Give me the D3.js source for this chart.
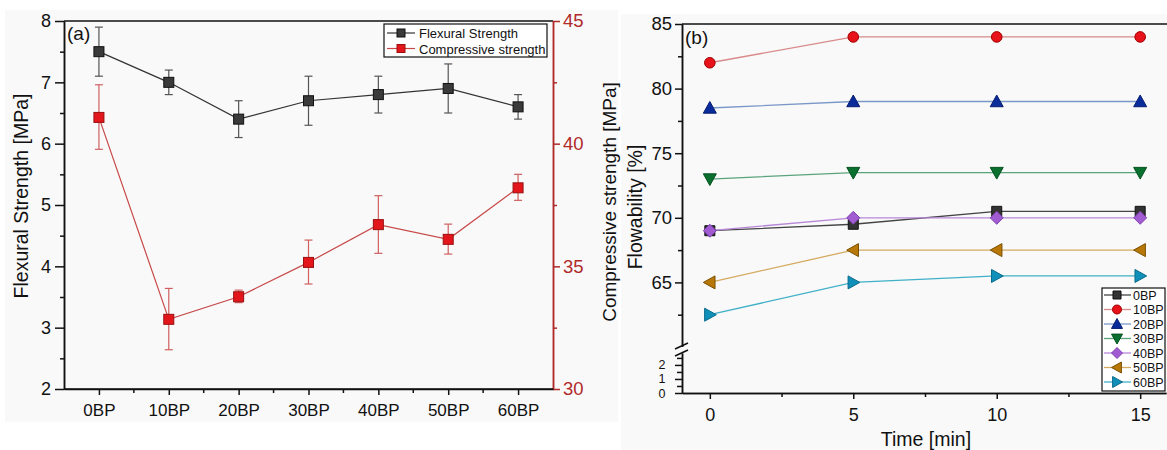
<!DOCTYPE html>
<html><head><meta charset="utf-8">
<script src="https://cdn.jsdelivr.net/npm/d3@7"></script>
<style>
html,body{margin:0;padding:0;background:#fff;}
svg{display:block;font-family:"Liberation Sans",Arial,sans-serif;}
</style></head>
<body><svg id="c" width="1167" height="450"></svg>
<script>
// ---- Panel (a) data ----
const categories = ["0BP","10BP","20BP","30BP","40BP","50BP","60BP"];
const flexural = [7.5, 7.0, 6.4, 6.7, 6.8, 6.9, 6.6];
const flexuralErr = [0.4, 0.2, 0.3, 0.4, 0.3, 0.4, 0.2];
const compressive = [41.07, 32.84, 33.76, 35.16, 36.70, 36.10, 38.20];
const compressiveLo = [39.77, 31.6, 33.52, 34.28, 35.53, 35.5, 37.69];
const compressiveHi = [42.4, 34.1, 34.03, 36.07, 37.88, 36.72, 38.75];
const leftTicks = [2,3,4,5,6,7,8];
const rightTicks = [30,35,40,45];

// ---- Panel (b) data ----
const times = [0, 5, 10, 15];
const seriesNames = ["0BP","10BP","20BP","30BP","40BP","50BP","60BP"];
const s0BP  = [69, 69.5, 70.5, 70.5];
const s10BP = [82, 84, 84, 84];
const s20BP = [78.5, 79, 79, 79];
const s30BP = [73, 73.5, 73.5, 73.5];
const s40BP = [69, 70, 70, 70];
const s50BP = [65, 67.5, 67.5, 67.5];
const s60BP = [62.5, 65, 65.5, 65.5];
const upperTicks = [65,70,75,80,85];
const lowerTicks = [0,1,2];
const timeTicks = [0,5,10,15];

const FONT = "Liberation Sans, Arial, sans-serif";
const svg = d3.select("#c");

// backgrounds
svg.append("rect").attr("x",5).attr("y",10).attr("width",613).attr("height",412).attr("fill","#f9f9f9");
svg.append("rect").attr("x",621).attr("y",14).attr("width",546).attr("height",436).attr("fill","#f9f9f9");

// ===== Panel (a) =====
const aL = 64, aR = 553, aT = 21, aB = 389;
const xa = d3.scalePoint().domain(categories).range([aL, aR]).padding(0.5);
const yl = d3.scaleLinear().domain([2,8]).range([aB, aT]);
const yr = d3.scaleLinear().domain([30,45]).range([aB, aT]);
const ga = svg.append("g");
const red = "#b02a2a";

ga.append("line").attr("x1",aL).attr("x2",aR).attr("y1",aT).attr("y2",aT).attr("stroke","#111").attr("stroke-width",1.5);

const leftAx = ga.append("g").attr("transform",`translate(${aL},0)`)
  .call(d3.axisLeft(yl).tickValues(leftTicks).tickSize(9).tickSizeOuter(0).tickPadding(4).tickFormat(d3.format("d")));
const leftMinor = ga.append("g").attr("transform",`translate(${aL},0)`)
  .call(d3.axisLeft(yl).tickValues(d3.range(2.5,8,1)).tickSize(4).tickSizeOuter(0).tickFormat(""));
const rightAx = ga.append("g").attr("transform",`translate(${aR},0)`)
  .call(d3.axisRight(yr).tickValues(rightTicks).tickSize(7).tickSizeOuter(0).tickPadding(3).tickFormat(d3.format("d")));
const rightMinor = ga.append("g").attr("transform",`translate(${aR},0)`)
  .call(d3.axisRight(yr).tickValues([32.5,37.5,42.5]).tickSize(4).tickSizeOuter(0).tickFormat(""));
const botAx = ga.append("g").attr("transform",`translate(0,${aB})`)
  .call(d3.axisBottom(xa).tickSize(6).tickSizeOuter(0).tickPadding(9));
const midPos = categories.slice(1).map((c,i)=> (xa(c)+xa(categories[i]))/2);
const botMinor = ga.append("g").attr("transform",`translate(0,${aB})`);
botMinor.selectAll("line").data(midPos).join("line").attr("x1",d=>d).attr("x2",d=>d).attr("y1",0).attr("y2",4).attr("stroke","#111").attr("stroke-width",1.5);
botMinor.append("line").attr("x1",aL).attr("x2",aR).attr("y1",0).attr("y2",0).attr("stroke","#111").attr("stroke-width",1.5);

[leftAx,leftMinor,botAx].forEach(g=>{
  g.selectAll("path,line").attr("stroke","#111").attr("stroke-width",1.5);
  g.selectAll("text").attr("fill","#111").attr("font-size",17).attr("font-family",FONT);
});
[rightAx,rightMinor].forEach(g=>{
  g.selectAll("path,line").attr("stroke",red).attr("stroke-width",1.5);
  g.selectAll("text").attr("fill",red).attr("font-size",18.5).attr("font-family",FONT);
});
leftAx.selectAll("text").attr("font-size",18);

ga.append("text").attr("transform",`translate(28,196) rotate(-90)`).attr("text-anchor","middle")
  .attr("font-size",19.5).attr("fill","#111").text("Flexural Strength [MPa]");
ga.append("text").attr("transform",`translate(616,202) rotate(-90)`).attr("text-anchor","middle")
  .attr("font-size",19).attr("fill","#111").text("Compressive strength [MPa]");
ga.append("text").attr("x",67).attr("y",40).attr("font-size",19).attr("fill","#111").text("(a)");

// flexural series
const flexLine = d3.line().x((d,i)=>xa(categories[i])).y(d=>yl(d));
ga.append("path").datum(flexural).attr("d",flexLine).attr("fill","none").attr("stroke","#333").attr("stroke-width",1.2);
const fe = ga.append("g").attr("stroke","#555").attr("stroke-width",1.2);
flexural.forEach((v,i)=>{
  const x = xa(categories[i]), y1 = yl(v+flexuralErr[i]), y2 = yl(v-flexuralErr[i]);
  fe.append("line").attr("x1",x).attr("x2",x).attr("y1",y1).attr("y2",y2);
  fe.append("line").attr("x1",x-4).attr("x2",x+4).attr("y1",y1).attr("y2",y1);
  fe.append("line").attr("x1",x-4).attr("x2",x+4).attr("y1",y2).attr("y2",y2);
});
ga.selectAll(".fm").data(flexural).join("rect").attr("class","fm")
  .attr("x",(d,i)=>xa(categories[i])-5).attr("y",d=>yl(d)-5).attr("width",10).attr("height",10)
  .attr("fill","#3a3a3a").attr("stroke","#111").attr("stroke-width",1);

// compressive series
const compLine = d3.line().x((d,i)=>xa(categories[i])).y(d=>yr(d));
ga.append("path").datum(compressive).attr("d",compLine).attr("fill","none").attr("stroke","#c84848").attr("stroke-width",1.2);
const ce = ga.append("g").attr("stroke","#d06060").attr("stroke-width",1.2);
compressive.forEach((v,i)=>{
  const x = xa(categories[i]), y1 = yr(compressiveHi[i]), y2 = yr(compressiveLo[i]);
  ce.append("line").attr("x1",x).attr("x2",x).attr("y1",y1).attr("y2",y2);
  ce.append("line").attr("x1",x-4).attr("x2",x+4).attr("y1",y1).attr("y2",y1);
  ce.append("line").attr("x1",x-4).attr("x2",x+4).attr("y1",y2).attr("y2",y2);
});
ga.selectAll(".cm").data(compressive).join("rect").attr("class","cm")
  .attr("x",(d,i)=>xa(categories[i])-5).attr("y",d=>yr(d)-5).attr("width",10).attr("height",10)
  .attr("fill","#e3161c").attr("stroke","#9a1010").attr("stroke-width",1);

// legend (a)
const la = ga.append("g");
la.append("rect").attr("x",384).attr("y",24).attr("width",163).attr("height",33).attr("fill","#fff").attr("stroke","#111").attr("stroke-width",1.2);
const legA = [{n:"Flexural Strength", fill:"#3a3a3a", st:"#111", ln:"#333"},{n:"Compressive strength", fill:"#e3161c", st:"#9a1010", ln:"#c84848"}];
legA.forEach((d,i)=>{
  const y = 33 + i*15.5;
  la.append("line").attr("x1",387).attr("x2",415).attr("y1",y).attr("y2",y).attr("stroke",d.ln).attr("stroke-width",1.2);
  la.append("rect").attr("x",397).attr("y",y-4).attr("width",8).attr("height",8).attr("fill",d.fill).attr("stroke",d.st);
  la.append("text").attr("x",419).attr("y",y+5).attr("font-size",13).attr("fill","#111").text(d.n);
});

// ===== Panel (b) =====
const bL = 682, bR = 1166, bT = 24, bB = 393;
const xb = d3.scaleLinear().domain([-0.97, 15.9]).range([bL, bR]);
const yu = d3.scaleLinear().domain([60,85]).range([347, bT]);
const ylo = d3.scaleLinear().domain([0,2.85]).range([bB, 353]);
const gb = svg.append("g");

gb.append("line").attr("x1",bL).attr("x2",1167).attr("y1",bT).attr("y2",bT).attr("stroke","#111").attr("stroke-width",1.5);
const upAx = gb.append("g").attr("transform",`translate(${bL},0)`)
  .call(d3.axisLeft(yu).tickValues(upperTicks).tickSize(7).tickSizeOuter(0).tickPadding(3).tickFormat(d3.format("d")));
const upMinor = gb.append("g").attr("transform",`translate(${bL},0)`)
  .call(d3.axisLeft(yu).tickValues([62.5,67.5,72.5,77.5,82.5]).tickSize(4).tickSizeOuter(0).tickFormat(""));
const loAx = gb.append("g").attr("transform",`translate(${bL},0)`)
  .call(d3.axisLeft(ylo).tickValues(lowerTicks).tickSize(7).tickSizeOuter(0).tickFormat(d3.format("d")).tickPadding(17));
const loMinor = gb.append("g").attr("transform",`translate(${bL},0)`)
  .call(d3.axisLeft(ylo).tickValues([0.5,1.5,2.5]).tickSize(5).tickSizeOuter(0).tickFormat(""));
const xbAx = gb.append("g").attr("transform",`translate(0,${bB})`)
  .call(d3.axisBottom(xb).tickValues(timeTicks).tickSize(6).tickSizeOuter(0).tickPadding(9).tickFormat(d3.format("d")));
const xbMinor = gb.append("g").attr("transform",`translate(0,${bB})`)
  .call(d3.axisBottom(xb).tickValues([2.5,7.5,12.5]).tickSize(4).tickSizeOuter(0).tickFormat(""));
[upAx,upMinor,loAx,loMinor,xbAx,xbMinor].forEach(g=>{
  g.selectAll("path,line").attr("stroke","#111").attr("stroke-width",1.5);
  g.selectAll("text").attr("fill","#111").attr("font-size",18.5).attr("font-family",FONT);
});
xbAx.selectAll("text").attr("font-size",18);
loAx.selectAll("text").attr("font-size",12.5).attr("text-anchor","middle").attr("dx",4);
// lower axis ticks pointing right, as short marks
loAx.selectAll("line").attr("x2",-7);
// break marks
const brk = gb.append("g").attr("stroke","#111").attr("stroke-width",1.5);
brk.append("rect").attr("x",bL-2).attr("y",347).attr("width",4).attr("height",6).attr("fill","#f9f9f9").attr("stroke","none");
brk.append("line").attr("x1",bL-7).attr("x2",bL+6).attr("y1",349).attr("y2",343);
brk.append("line").attr("x1",bL-7).attr("x2",bL+6).attr("y1",356).attr("y2",350);

gb.append("text").attr("transform",`translate(642,207) rotate(-90)`).attr("text-anchor","middle")
  .attr("font-size",19.5).attr("fill","#111").text("Flowability [%]");
gb.append("text").attr("x",926).attr("y",446).attr("text-anchor","middle")
  .attr("font-size",19.5).attr("fill","#111").text("Time [min]");
gb.append("text").attr("x",685).attr("y",44).attr("font-size",19).attr("fill","#111").text("(b)");

const seriesB = [
  {n:"0BP", v:s0BP, fill:"#333333", st:"#111", ln:"#444", shape:"square"},
  {n:"10BP", v:s10BP, fill:"#e8121a", st:"#a00000", ln:"#d88a8a", shape:"circle"},
  {n:"20BP", v:s20BP, fill:"#0a2c9a", st:"#061c70", ln:"#7a98c8", shape:"triangle"},
  {n:"30BP", v:s30BP, fill:"#0a7030", st:"#05501e", ln:"#5aa47c", shape:"triDown"},
  {n:"40BP", v:s40BP, fill:"#a05cd0", st:"#8040b0", ln:"#b888d8", shape:"diamond"},
  {n:"50BP", v:s50BP, fill:"#b87808", st:"#7a5000", ln:"#d4aa60", shape:"triLeft"},
  {n:"60BP", v:s60BP, fill:"#1090b8", st:"#0a6a8a", ln:"#40b0c8", shape:"triRight"}
];
function markerPath(shape, s){
  const h = s/2;
  switch(shape){
    case "square": return `M${-h},${-h}H${h}V${h}H${-h}Z`;
    case "triangle": return `M0,${-h}L${h},${h*0.8}L${-h},${h*0.8}Z`;
    case "triDown": return `M0,${h}L${h},${-h*0.8}L${-h},${-h*0.8}Z`;
    case "triLeft": return `M${-h},0L${h*0.8},${-h}L${h*0.8},${h}Z`;
    case "triRight": return `M${h},0L${-h*0.8},${-h}L${-h*0.8},${h}Z`;
    case "diamond": return `M0,${-h}L${h},0L0,${h}L${-h},0Z`;
  }
}
const bLine = d3.line().x((d,i)=>xb(times[i])).y(d=>yu(d));
seriesB.forEach(s=>{
  gb.append("path").datum(s.v).attr("d",bLine).attr("fill","none").attr("stroke",s.ln).attr("stroke-width",1.3);
});
seriesB.forEach(s=>{
  const g = gb.append("g");
  s.v.forEach((v,i)=>{
    if(s.shape==="circle"){
      g.append("circle").attr("cx",xb(times[i])).attr("cy",yu(v)).attr("r",5.3).attr("fill",s.fill).attr("stroke",s.st).attr("stroke-width",1);
    } else {
      const sz = s.shape==="square"?10:13;
      g.append("path").attr("d",markerPath(s.shape,sz)).attr("transform",`translate(${xb(times[i])},${yu(v)})`)
        .attr("fill",s.fill).attr("stroke",s.st).attr("stroke-width",1);
    }
  });
});

// legend (b)
const lb = gb.append("g");
lb.append("rect").attr("x",1102).attr("y",288).attr("width",63).attr("height",103).attr("fill","#fff").attr("stroke","#111").attr("stroke-width",1.2);
seriesB.forEach((s,i)=>{
  const y = 295 + i*14.5;
  lb.append("line").attr("x1",1104).attr("x2",1131).attr("y1",y).attr("y2",y).attr("stroke",s.ln).attr("stroke-width",1.3);
  if(s.shape==="circle"){
    lb.append("circle").attr("cx",1117).attr("cy",y).attr("r",4.5).attr("fill",s.fill).attr("stroke",s.st);
  } else {
    lb.append("path").attr("d",markerPath(s.shape, s.shape==="square"?8:11)).attr("transform",`translate(1117,${y})`)
      .attr("fill",s.fill).attr("stroke",s.st);
  }
  lb.append("text").attr("x",1133).attr("y",y+4.5).attr("font-size",12.5).attr("fill","#111").text(s.n);
});
</script>
</body></html>
